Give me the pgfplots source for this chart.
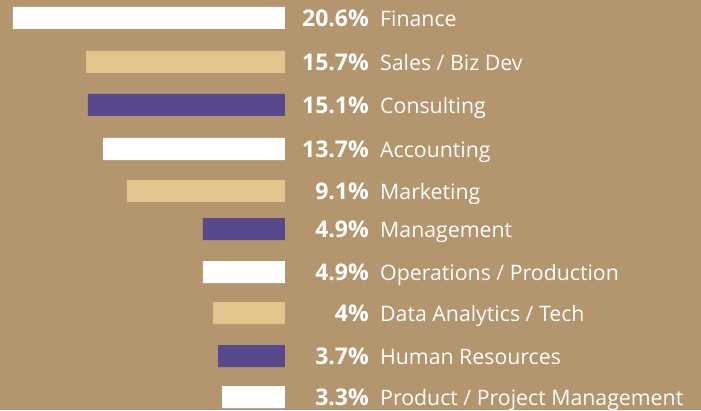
\documentclass[border=0pt]{standalone}
\usepackage{pgfplots}
\pgfplotsset{compat=1.18}
\usepackage{pgfplotstable}
\usepackage{fontspec}
\setmainfont{Open Sans}
\definecolor{bg}{RGB}{179,149,110}
\definecolor{beige}{RGB}{226,196,141}
\definecolor{purp}{RGB}{87,73,140}
\pgfplotstableread[col sep=comma]{
y,len
18,20.60
149,13.78
272,6.21
397,4.77
}\whitebars
\pgfplotstableread[col sep=comma]{
y,len
62,15.07
191,11.97
313,5.45
}\beigebars
\pgfplotstableread[col sep=comma]{
y,len
105,14.92
229,6.21
356,5.07
}\purplebars
\pgfplotstableread[col sep=comma]{
y,pct,name
18,20.6,Finance
62,15.7,Sales / Biz Dev
105,15.1,Consulting
149,13.7,Accounting
191,9.1,Marketing
229,4.9,Management
272,4.9,Operations / Production
313,4,Data Analytics / Tech
356,3.7,Human Resources
397,3.3,Product / Project Management
}\labels
\begin{document}
\begin{tikzpicture}
\begin{axis}[
  width=701pt, height=410pt, scale only axis,
  x dir=reverse, y dir=reverse,
  xmin=-31.506, xmax=21.584, ymin=0, ymax=410,
  axis line style={draw=none}, xtick=\empty, ytick=\empty,
  axis background/.style={fill=bg},
  clip=false,
]
\addplot[xbar, bar shift=0pt, bar width=22, fill=white, draw=none] table[x=len, y=y] {\whitebars};
\addplot[xbar, bar shift=0pt, bar width=22, fill=beige, draw=none] table[x=len, y=y] {\beigebars};
\addplot[xbar, bar shift=0pt, bar width=22, fill=purp, draw=none] table[x=len, y=y] {\purplebars};
\addplot[draw=none, mark=none, point meta=explicit symbolic,
  nodes near coords={\pgfplotspointmeta\%},
  nodes near coords style={anchor=base east, inner sep=0pt, yshift=-8.8pt, text=white, font=\fontsize{23}{27}\selectfont\bfseries}]
  table[x expr=-6.362, y=y, meta=pct] {\labels};
\addplot[draw=none, mark=none, point meta=explicit symbolic,
  nodes near coords={\pgfplotspointmeta},
  nodes near coords style={anchor=base west, inner sep=0pt, yshift=-8.8pt, text=white, font=\fontsize{21.3}{25}\selectfont}]
  table[x expr=-7.195, y=y, meta=name] {\labels};
\end{axis}
\end{tikzpicture}
\end{document}
